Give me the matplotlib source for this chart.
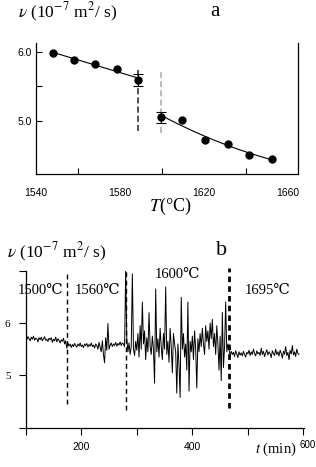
import numpy as np
import matplotlib
matplotlib.use("Agg")
import matplotlib.pyplot as plt

plt.rcParams["mathtext.fontset"] = "stix"
SERIF = ["Liberation Serif", "DejaVu Serif", "DejaVu Sans"]
SANS = ["Liberation Sans", "DejaVu Sans"]

# ---- panel a: viscosity vs temperature ----
temp_low = [1548, 1558, 1568, 1578.5, 1588.5]
nu_low = [5.99, 5.89, 5.82, 5.76, 5.59]
temp_high = [1599.5, 1609.5, 1620.5, 1631.5, 1641.5, 1652.5]
nu_high = [5.05, 5.01, 4.72, 4.67, 4.51, 4.45]
err_low = [0.08, 0.09]     # down, up at last low point
err_high = [0.08, 0.08]    # down, up at first high point
jump_temps = [1588.5, 1599.5]
jump_top = [5.75, 5.76]
jump_bottom = [4.86, 4.83]
jump_colors = ["#222222", "#aaaaaa"]

# ---- panel b: viscosity vs time ----
nu_seg1 = [5.72, 5.68, 5.74, 5.70, 5.66, 5.73, 5.69, 5.75, 5.67, 5.71, 5.70, 5.64,
           5.72, 5.68, 5.73, 5.66, 5.70, 5.74, 5.67, 5.69, 5.65, 5.71, 5.68, 5.72,
           5.63, 5.69, 5.66, 5.73, 5.64, 5.70, 5.67, 5.62, 5.68, 5.65, 5.71, 5.60, 5.66]
nu_seg2 = [5.52, 5.62, 5.56, 5.60, 5.53, 5.59, 5.55, 5.61, 5.57, 5.54, 5.60, 5.56,
           5.62, 5.55, 5.58, 5.53, 5.60, 5.57, 5.61, 5.54, 5.59, 5.56, 5.62, 5.55,
           5.58, 5.52, 5.60, 5.57, 5.50, 5.63, 5.54, 5.45, 5.66, 5.40, 5.24, 5.72,
           5.48, 5.99, 5.50, 5.58, 5.62, 5.55, 5.60, 5.57, 5.63, 5.56, 5.61, 5.58,
           5.64, 5.57, 5.62, 5.60, 5.55]
nu_seg3 = [7.00, 5.70, 5.45, 5.62, 5.40, 5.55, 6.94, 5.50, 5.38, 5.65, 5.48, 5.80,
           5.35, 5.95, 5.50, 6.40, 5.60, 5.85, 5.30, 5.72, 5.45, 6.20, 5.55, 5.40,
           5.75, 5.50, 4.85, 6.65, 5.45, 5.70, 5.35, 5.90, 5.55, 5.30, 5.80, 5.50,
           6.69, 5.40, 5.65, 5.25, 5.90, 5.55, 5.05, 5.80, 5.60, 5.45, 4.66, 5.60,
           5.20, 4.58, 6.49, 5.50, 5.80, 5.35, 5.60, 5.10, 6.40, 4.70, 5.65, 5.45,
           5.75, 5.30, 5.85, 5.50, 4.76, 5.70, 5.45, 5.80, 5.55, 5.90, 5.60, 5.40,
           5.95, 5.65, 5.85, 5.50, 6.00, 5.70, 6.07, 5.55, 5.80, 5.40, 5.95, 5.60,
           5.10, 5.75, 4.90, 6.20, 5.15, 5.55, 6.40, 5.45, 5.60]
nu_seg4 = [5.50, 5.38, 5.46, 5.40, 5.44, 5.36, 5.47, 5.41, 5.34, 5.45, 5.39, 5.43,
           5.37, 5.46, 5.40, 5.35, 5.44, 5.41, 5.48, 5.38, 5.45, 5.40, 5.50, 5.42,
           5.37, 5.47, 5.41, 5.44, 5.38, 5.52, 5.40, 5.46, 5.36, 5.43, 5.49, 5.39,
           5.45, 5.41, 5.34, 5.47, 5.42, 5.38, 5.50, 5.40, 5.45, 5.37, 5.48, 5.42,
           5.33, 5.46, 5.40, 5.55, 5.38, 5.44, 5.30, 5.48, 5.41, 5.57, 5.39, 5.45,
           5.36, 5.50, 5.42, 5.40]
seg_ranges = [(100, 172), (174, 278), (280, 464), (466, 592)]

change_times = [174, 280, 466]
change_bottom = [4.46, 4.33, 4.37]
change_width = [1.0, 1.0, 2.0]
phase_labels = ["1500\u2103", "1560\u2103", "1600\u2103", "1695\u2103"]
phase_x = [41, 98, 177, 268]     # pixel centres
phase_y = [291, 291, 275, 291]

W, H = 316, 467
fig = plt.figure(figsize=(W / 100, H / 100), dpi=100)

def fx(px):
    return px / W

def fy(py):
    return 1 - py / H

# ===== panel a =====
ax = fig.add_axes([fx(36), fy(174), fx(262), 131 / H])
ax.spines["top"].set_visible(False)
for s in ["left", "bottom", "right"]:
    ax.spines[s].set_linewidth(0.9)

c_low = np.polyfit(temp_low, nu_low, 1)
c_high = np.polyfit(temp_high, nu_high, 2)
xl = np.linspace(temp_low[0] - 1, temp_low[-1], 50)
xh = np.linspace(temp_high[0], temp_high[-1], 50)
ax.plot(xl, np.polyval(c_low, xl), color="black", lw=0.8)
ax.plot(xh, np.polyval(c_high, xh), color="black", lw=0.8)

for t, top, bot, c in zip(jump_temps, jump_top, jump_bottom, jump_colors):
    ax.plot([t, t], [bot, top], color=c, lw=1.1, dashes=(4, 2))

ax.plot(temp_low + temp_high, nu_low + nu_high, "o", color="black", ms=5)
ax.errorbar([temp_low[-1]], [nu_low[-1]], yerr=[[err_low[0]], [err_low[1]]],
            fmt="none", ecolor="black", elinewidth=0.7, capsize=3.5, capthick=0.8)
ax.errorbar([temp_high[0]], [nu_high[0]], yerr=[[err_high[0]], [err_high[1]]],
            fmt="none", ecolor="black", elinewidth=0.7, capsize=3.5, capthick=0.8)

ax.set_xlim(1540, 1665)
ax.set_ylim(4.23, 6.13)
ax.set_xticks([1540, 1580, 1620, 1660])
ax.set_xticks([1560, 1600, 1640], minor=True)
ax.set_yticks([5.0, 6.0])
ax.set_yticks([5.5], minor=True)
ax.set_yticklabels(["5.0", "6.0"])
ax.tick_params(axis="x", which="major", length=0, pad=10, labelsize=7.5)
ax.tick_params(axis="x", which="minor", direction="in", length=4, width=0.8)
ax.tick_params(axis="y", which="both", direction="in", length=4, width=0.8,
               pad=3, labelsize=7.5)
for lab in ax.get_xticklabels() + ax.get_yticklabels():
    lab.set_family(SANS)

fig.text(fx(18), fy(12), r"$\nu$ (10$^{-7}$ m$^2$/ s)", family=SERIF,
         fontsize=12.5, ha="left", va="center")
fig.text(fx(215), fy(12), "a", family=SERIF, fontsize=15, ha="center", va="center")
fig.text(fx(170), fy(206), r"$T$(°C)", family=SERIF, fontsize=13,
         ha="center", va="center")

# ===== panel b =====
bx = fig.add_axes([fx(25.7), fy(427.7), fx(278.3), 157 / H])
bx.spines["top"].set_visible(False)
bx.spines["right"].set_visible(False)
bx.spines["left"].set_linewidth(0.9)
bx.spines["bottom"].set_linewidth(0.9)

t_all, nu_all = [], []
for (t0, t1), seg in zip(seg_ranges, [nu_seg1, nu_seg2, nu_seg3, nu_seg4]):
    t_all.append(np.linspace(t0, t1, len(seg)))
    nu_all.append(np.array(seg))
bx.plot(np.concatenate(t_all), np.concatenate(nu_all), color="black", lw=0.7)

for t, bot, w in zip(change_times, change_bottom, change_width):
    top = 7.05 if w > 1.5 else 7.0
    bx.plot([t, t], [bot, top], color="black", lw=w, dashes=(3.5, 2.5) if w < 1.5 else (2, 1.5),
            clip_on=False)

bx.set_xlim(100, 601)
bx.set_ylim(4, 7)
bx.set_xticks([100, 200, 300, 400, 500, 600])
bx.set_xticklabels(["", "200", "", "400", "", ""])
bx.set_yticks([4, 5, 6, 7])
bx.set_yticklabels(["", "5", "6", ""])
bx.tick_params(axis="x", direction="out", length=5, width=0.8, pad=5, labelsize=7.5)
bx.tick_params(axis="y", direction="out", length=5, width=0.8, pad=6, labelsize=8)
for lab in bx.get_xticklabels():
    lab.set_family(SANS)
for lab in bx.get_yticklabels():
    lab.set_family(SERIF)

for lab, x, y in zip(phase_labels, phase_x, phase_y):
    fig.text(fx(x), fy(y), lab, family=SERIF, fontsize=10.5, ha="center", va="center")

fig.text(fx(7), fy(252), r"$\nu$ (10$^{-7}$ m$^2$/ s)", family=SERIF,
         fontsize=12.5, ha="left", va="center")
fig.text(fx(222), fy(251), "b", family=SERIF, fontsize=16, ha="center", va="center")
fig.text(fx(276), fy(449), r"$t$ (min)", family=SERIF, fontsize=10.5,
         ha="center", va="center")
fig.text(fx(308), fy(445), "600", family=SANS, fontsize=7, ha="center", va="center")

fig.savefig("out.png", dpi=100)
